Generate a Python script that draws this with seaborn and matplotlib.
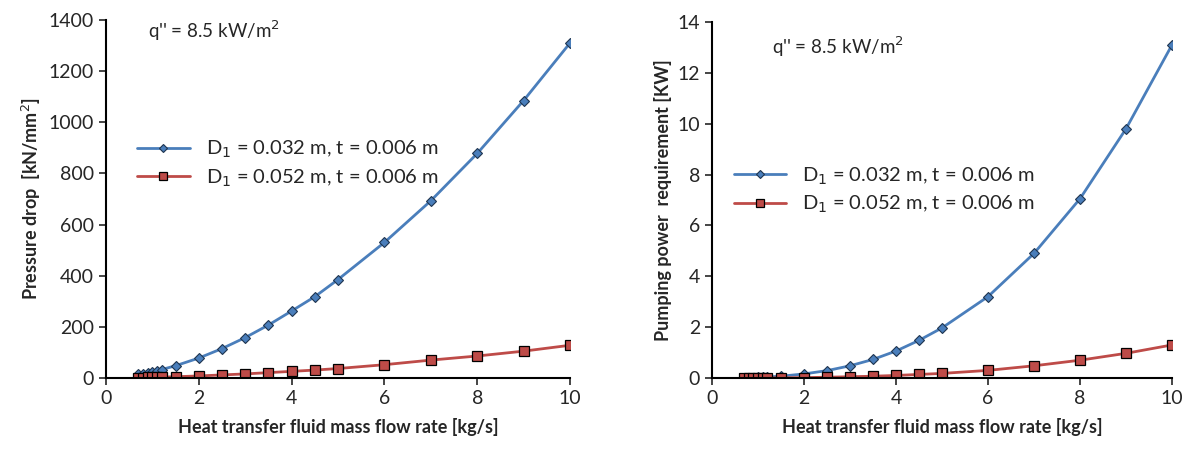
import numpy as np
import pandas as pd
import seaborn as sns
import matplotlib.pyplot as plt

flow = [0.7, 0.8, 0.9, 1.0, 1.1, 1.2, 1.5, 2, 2.5, 3, 3.5, 4, 4.5, 5, 6, 7, 8, 9, 10]

dp_032 = [14, 17, 21, 25, 29, 33, 48, 78, 115, 158, 207, 262, 318, 385, 530, 693, 878, 1085, 1310]
dp_052 = [1.5, 1.8, 2.1, 2.5, 2.9, 3.3, 5, 8, 12, 16, 21, 26, 31, 37, 52, 70, 86, 105, 128]

pw_032 = [0.01, 0.013, 0.018, 0.024, 0.031, 0.04, 0.07, 0.16, 0.29, 0.48, 0.73, 1.06, 1.48, 1.97, 3.2, 4.9, 7.05, 9.8, 13.1]
pw_052 = [0.001, 0.0013, 0.0018, 0.0024, 0.003, 0.004, 0.008, 0.015, 0.03, 0.05, 0.07, 0.1, 0.14, 0.18, 0.3, 0.48, 0.7, 0.97, 1.3]

labels = ["D$_1$ = 0.032 m, t = 0.006 m", "D$_1$ = 0.052 m, t = 0.006 m"]

sns.set_style("ticks")
plt.rcParams['font.family'] = ['Lato', 'DejaVu Sans']

fig = plt.figure(figsize=(11.89, 4.57), dpi=100)
W, H = 1189, 457
ax1 = fig.add_axes([106 / W, 1 - 378 / H, (570 - 106) / W, (378 - 20) / H])
ax2 = fig.add_axes([712 / W, 1 - 378 / H, (1172 - 712) / W, (378 - 22) / H])

blue = "#4a7ebb"
red = "#be4b48"


def draw(ax, y1, y2, ymax, ystep, ylabel, leg_anchor, q_pos):
    sns.lineplot(x=flow, y=y1, ax=ax, color=blue, lw=2, marker="D", markersize=5,
                 markerfacecolor=blue, markeredgecolor="#1f3550", markeredgewidth=0.8,
                 label=labels[0])
    sns.lineplot(x=flow, y=y2, ax=ax, color=red, lw=2, marker="s", markersize=7.5,
                 markerfacecolor=red, markeredgecolor="black", markeredgewidth=0.9,
                 label=labels[1])
    ax.set_xlim(0, 10)
    ax.set_ylim(0, ymax)
    ax.set_xticks(np.arange(0, 11, 2))
    ax.set_yticks(np.arange(0, ymax + ystep / 2, ystep))
    ax.tick_params(labelsize=14, direction="out", length=5, width=1.2)
    for s in ["left", "bottom"]:
        ax.spines[s].set_linewidth(1.5)
        ax.spines[s].set_color("black")
    sns.despine(ax=ax)
    ax.set_xlabel("Heat transfer fluid mass flow rate [kg/s]", fontsize=13, fontweight="bold", labelpad=8)
    ax.set_ylabel(ylabel, fontsize=13, fontweight="bold")
    leg = ax.legend(loc="upper left", bbox_to_anchor=leg_anchor, frameon=False, fontsize=14.5,
                    handlelength=2.6, labelspacing=0.35, borderaxespad=0, markerscale=0.8)
    ax.text(q_pos[0], q_pos[1], "q'' = 8.5 kW/m$^2$", transform=ax.transAxes, fontsize=13.5)


draw(ax1, dp_032, dp_052, 1400, 200, "Pressure drop  [kN/mm$^2$]", (0.05, 0.69), (0.09, 0.95))
draw(ax2, pw_032, pw_052, 14, 2, "Pumping power  requirement [KW]", (0.03, 0.62), (0.13, 0.91))

fig.savefig("out.png", dpi=100)
